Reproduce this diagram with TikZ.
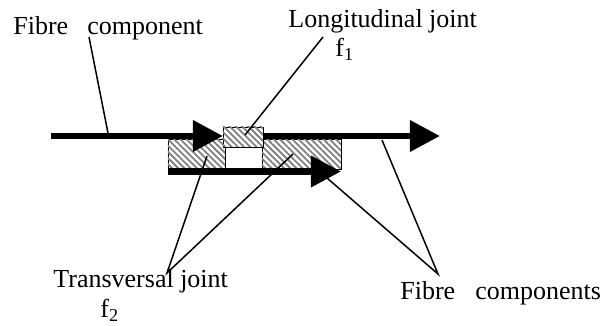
\documentclass[tikz,border=0pt]{standalone}
\usepackage{fontspec}
\setmainfont{Liberation Serif}
\usetikzlibrary{arrows.meta,patterns.meta}

\begin{document}
\begin{tikzpicture}[
    x=0.5pt, y=-0.5pt,
    fibre/.style={line width=3.3pt, -{Triangle[length=15pt, width=15pt]}},
    jointbox/.style={draw=black, line width=0.4pt, fill=white, postaction={pattern={Lines[angle=-45, distance=2.2pt, line width=0.9pt]}, pattern color=gray}},
    leader/.style={line width=0.75pt},
    txt/.style={font=\fontsize{13}{15}\selectfont, inner sep=0pt, anchor=base west}
]
\useasboundingbox (0,0) rectangle (602,326);

% Transversal joints
\path[jointbox] (168,139) rectangle (225,169);
\path[jointbox] (262,139) rectangle (341,169);

% Fibre components
\coordinate (top_left_start) at (51,136);
\coordinate (top_left_end) at (223,136);
\coordinate (top_right_start) at (263,136);
\coordinate (top_right_end) at (440,136);
\coordinate (bottom_start) at (168,171.5);
\coordinate (bottom_end) at (341,171.5);

\draw [fibre] (top_left_start) -- (top_left_end);
\draw [fibre] (top_right_start) -- (top_right_end);
\draw [fibre] (bottom_start) -- (bottom_end);

% Longitudinal joint
\path[jointbox] (223,127) rectangle (263,147);

% Labels
\node [txt] (fibre_comp) at (13,35) {Fibre\hspace{9.5pt}component};
\node [txt] (long_joint) at (288,28) {Longitudinal joint};
\node [txt] (long_f) at (335,57) {f\textsubscript{1}};
\node [txt] (trans_joint) at (53,288) {Transversal joint};
\node [txt] (trans_f) at (100,318) {f\textsubscript{2}};
\node [txt] (fibre_comps) at (400,300) {Fibre\hspace{10pt}components};

% Leader points
\coordinate (fc_from) at (89,37);
\coordinate (fc_to) at (108,133);
\coordinate (lj_from) at (323,37);
\coordinate (lj_to) at (245,135);
\coordinate (tj_from) at (167,273);
\coordinate (tj_left) at (207,156);
\coordinate (tj_right) at (293,154);
\coordinate (fcs_from) at (438,274);
\coordinate (fcs_top) at (382,140);
\coordinate (fcs_bottom) at (327,178);

\draw [leader] (fc_from) -- (fc_to);
\draw [leader] (lj_from) -- (lj_to);
\draw [leader] (tj_left) -- (tj_from) -- (tj_right);
\draw [leader] (fcs_top) -- (fcs_from) -- (fcs_bottom);

\end{tikzpicture}
\end{document}
